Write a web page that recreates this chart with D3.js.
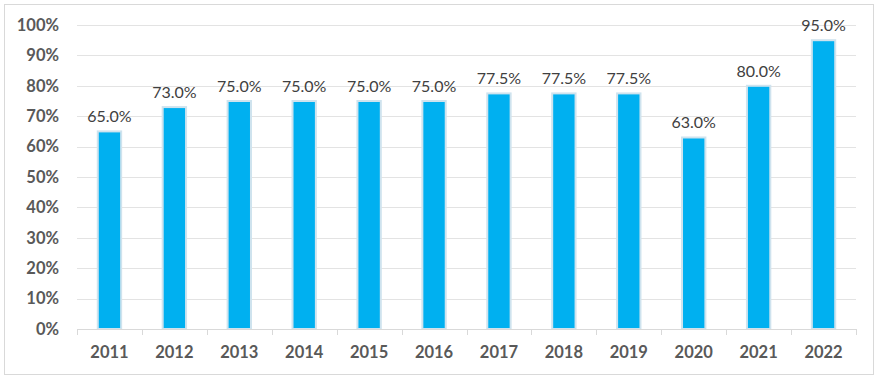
<!DOCTYPE html>
<html><head><meta charset="utf-8">
<script src="https://cdn.jsdelivr.net/npm/d3@7"></script>
<style>body{margin:0;background:#fff;}svg{display:block;font-family:Lato,"Liberation Sans",sans-serif;}</style>
</head><body>
<svg id="c" width="880" height="380"></svg>
<script>
const years = ["2011","2012","2013","2014","2015","2016","2017","2018","2019","2020","2021","2022"];
const values = [65.0,73.0,75.0,75.0,75.0,75.0,77.5,77.5,77.5,63.0,80.0,95.0];
const yTicks = [0,10,20,30,40,50,60,70,80,90,100];

const svg = d3.select("#c");
svg.append("rect").attr("x",4.5).attr("y",4.5).attr("width",869).attr("height",370)
  .attr("fill","#fff").attr("stroke","#d9d9d9").attr("stroke-width",1);

const m = {l:77, r:856, t:25, b:329};
const x = d3.scaleBand().domain(years).range([m.l,m.r]).paddingInner(0.64).paddingOuter(0.32);
const xb = d3.scaleBand().domain(years).range([m.l,m.r]);
const y = d3.scaleLinear().domain([0,100]).range([m.b,m.t]);

// gridlines
svg.append("g").selectAll("line").data(yTicks.filter(d=>d>0)).join("line")
  .attr("x1",m.l).attr("x2",m.r).attr("y1",d=>Math.round(y(d))+0.5).attr("y2",d=>Math.round(y(d))+0.5)
  .attr("stroke","#e3e3e3").attr("stroke-width",1);

// y labels
svg.append("g").selectAll("text").data(yTicks).join("text")
  .attr("x",59).attr("y",d=>y(d)).attr("dy","0.35em").attr("text-anchor","end")
  .attr("font-size",16.5).attr("font-weight","bold").attr("fill","#595959")
  .text(d=>d+"%");

// bars
svg.append("g").selectAll("rect").data(values).join("rect")
  .attr("x",(d,i)=>x(years[i])).attr("width",x.bandwidth())
  .attr("y",d=>y(d)).attr("height",d=>y(0)-y(d))
  .attr("fill","#00B0F0").attr("stroke","#cfe3ee").attr("stroke-width",2);

// x axis
svg.append("line").attr("x1",m.l).attr("x2",m.r).attr("y1",m.b+0.5).attr("y2",m.b+0.5).attr("stroke","#d9d9d9");
const bounds = years.map(d=>xb(d)).concat([m.r]);
svg.append("g").selectAll("line").data(bounds).join("line")
  .attr("x1",d=>Math.round(d)+0.5).attr("x2",d=>Math.round(d)+0.5).attr("y1",m.b).attr("y2",m.b+6)
  .attr("stroke","#d9d9d9");
svg.append("g").selectAll("text").data(years).join("text")
  .attr("x",d=>xb(d)+xb.bandwidth()/2).attr("y",352).attr("dy","0.35em").attr("text-anchor","middle")
  .attr("font-size",16.5).attr("font-weight","bold").attr("fill","#595959").text(d=>d);

// data labels
svg.append("g").selectAll("text").data(values).join("text")
  .attr("x",(d,i)=>xb(years[i])+xb.bandwidth()/2).attr("y",d=>y(d)-9)
  .attr("text-anchor","middle").attr("font-size",16).attr("fill","#404040")
  .text(d=>d.toFixed(1)+"%");
</script>
</body></html>
